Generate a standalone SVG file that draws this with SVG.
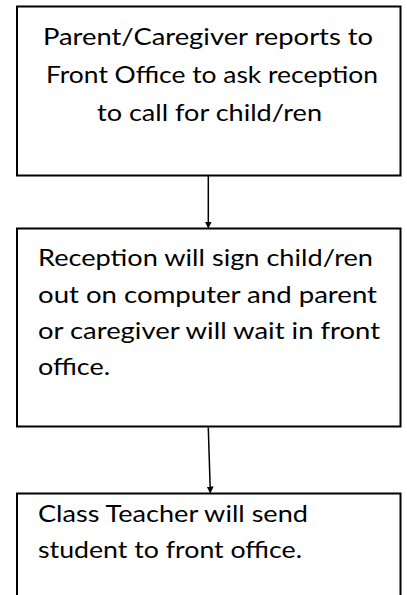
<svg xmlns="http://www.w3.org/2000/svg" width="407" height="595" viewBox="0 0 407 595">
<style>
.box{fill:#fff;stroke:#000;stroke-width:2}
.t{font-family:Lato,"Open Sans","Liberation Sans",sans-serif;font-size:24px;fill:#000}
.c{stroke:#000;stroke-width:1.5;fill:none}
</style>
<defs>
<marker id="ah" markerWidth="8" markerHeight="8" refX="6" refY="3.5" orient="auto" markerUnits="userSpaceOnUse">
<path d="M0,0 L7,3.5 L0,7 Z" fill="#000"/>
</marker>
</defs>
<rect width="407" height="595" fill="#fff"/>
<g id="node1">
<rect class="box" x="17" y="6.5" width="383.5" height="169"/>
<text class="t" text-anchor="middle" x="208" y="45" textLength="330" lengthAdjust="spacingAndGlyphs">Parent/Caregiver reports to</text>
<text class="t" text-anchor="middle" x="212" y="83" textLength="332" lengthAdjust="spacingAndGlyphs">Front Office to ask reception</text>
<text class="t" text-anchor="middle" x="209.5" y="121" textLength="225" lengthAdjust="spacingAndGlyphs">to call for child/ren</text>
</g>
<g id="node2">
<rect class="box" x="17" y="228.5" width="383.5" height="198"/>
<text class="t" x="38" y="266" textLength="335" lengthAdjust="spacingAndGlyphs">Reception will sign child/ren</text>
<text class="t" x="38" y="302.5" textLength="339" lengthAdjust="spacingAndGlyphs">out on computer and parent</text>
<text class="t" x="38" y="339" textLength="342" lengthAdjust="spacingAndGlyphs">or caregiver will wait in front</text>
<text class="t" x="38" y="375" textLength="72" lengthAdjust="spacingAndGlyphs">office.</text>
</g>
<g id="node3">
<path class="box" d="M17,600 V493.5 H400.5 V600"/>
<text class="t" x="38" y="521.5" textLength="270" lengthAdjust="spacingAndGlyphs">Class Teacher will send</text>
<text class="t" x="38" y="558" textLength="264" lengthAdjust="spacingAndGlyphs">student to front office.</text>
</g>
<g id="connectors">
<line class="c" x1="208.3" y1="176" x2="208.3" y2="227.5" marker-end="url(#ah)"/>
<line class="c" x1="208.3" y1="427.5" x2="210.3" y2="492.5" marker-end="url(#ah)"/>
</g>
</svg>
